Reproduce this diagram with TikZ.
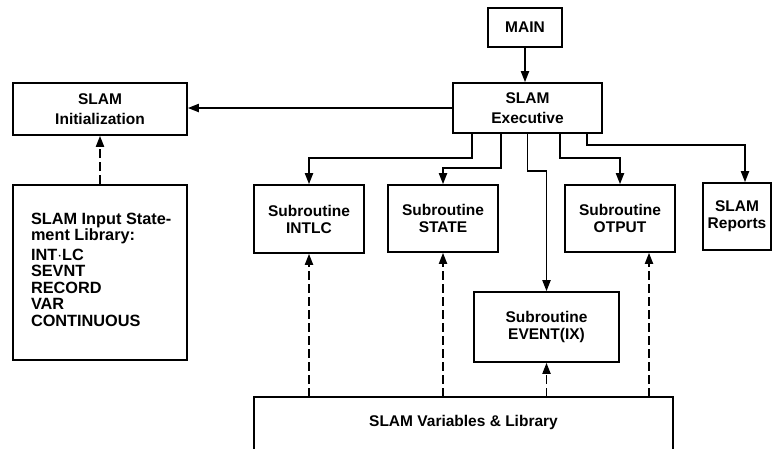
\documentclass[tikz,border=0pt]{standalone}
\usepackage{fontspec}
\setmainfont{Liberation Sans}
\usetikzlibrary{arrows.meta}
\begin{document}
\begin{tikzpicture}[x=1pt,y=-1pt,
  txt/.style={align=center, inner sep=0pt, font=\fontsize{15.5}{17}\selectfont\bfseries},
  box/.style={txt, draw, line width=1.6pt},
  wide/.style={font=\fontsize{15.5}{20}\selectfont\bfseries},
  frame/.style={line width=1.6pt},
  arr/.style={line width=1.8pt, -{Triangle[length=11pt,width=8pt]}},
  darr/.style={arr, dash pattern=on 9pt off 4pt}]
\useasboundingbox (0,0) rectangle (774,448);
\clip (0,0) rectangle (774,448);
% boxes
\node[box, minimum width=74pt, minimum height=39pt] (main) at (525,27.5) {MAIN};
\node[box, wide, minimum width=149pt, minimum height=50pt] (exec) at (527.5,108) {SLAM\\Executive};
\node[box, wide, minimum width=174pt, minimum height=52pt] (init) at (100,109) {SLAM\\Initialization};
\node[box, minimum width=174pt, inner ysep=5pt] (input) at (100,272.5)
  {\parbox[c][165pt][t]{152pt}{\raggedright\leftskip=7pt\fontsize{16.3}{16.5}\selectfont\vspace*{23pt}%
   SLAM Input State-\\ment Library:\\[3pt]INT$\cdot$LC\\SEVNT\\RECORD\\VAR\\CONTINUOUS}};
\node[box, minimum width=110pt, minimum height=68pt] (intlc) at (309,219) {Subroutine\\INTLC};
\node[box, minimum width=110pt, minimum height=67pt] (state) at (443,218.5) {Subroutine\\STATE};
\node[box, minimum width=110pt, minimum height=67pt] (otput) at (620,218.5) {Subroutine\\OTPUT};
\node[box, minimum width=68pt, minimum height=67pt] (rep) at (737,216.5) {SLAM\\Reports};
\node[box, minimum width=145pt, minimum height=70pt] (event) at (546.5,327) {Subroutine\\EVENT(IX)};
\node[txt, minimum width=419pt, minimum height=50pt] (vars) at (463.5,422) {SLAM Variables \& Library};
\draw[frame] ([yshift=-20pt]vars.south west) -- (vars.north west) -- (vars.north east) -- ([yshift=-20pt]vars.south east);
% solid connectors
\draw[arr] (main.south) -- (main.south |- exec.north);
\draw[arr] (exec.west) -- (exec.west -| init.east);
\draw[arr] ([xshift=-55.5pt]exec.south) -- ++(0,24) -| (intlc.north);
\draw[arr] ([xshift=-26.5pt]exec.south) -- ++(0,34) -| (state.north);
\draw[arr] (exec.south) -- ++(0,37) -| (event.north);
\draw[arr] ([xshift=32.5pt]exec.south) -- ++(0,24) -| (otput.north);
\draw[arr] ([xshift=59.5pt]exec.south) -- ++(0,11) -| ([xshift=8pt]rep.north);
% dashed connectors
\draw[darr] (input.north) -- (init.south);
\draw[darr] (vars.north -| intlc.south) -- (intlc.south);
\draw[darr] (vars.north -| state.south) -- (state.south);
\draw[darr] (vars.north -| event.south) -- (event.south);
\coordinate (opin) at ([xshift=29pt]otput.south);
\draw[darr] (vars.north -| opin) -- (opin);
\end{tikzpicture}
\end{document}
